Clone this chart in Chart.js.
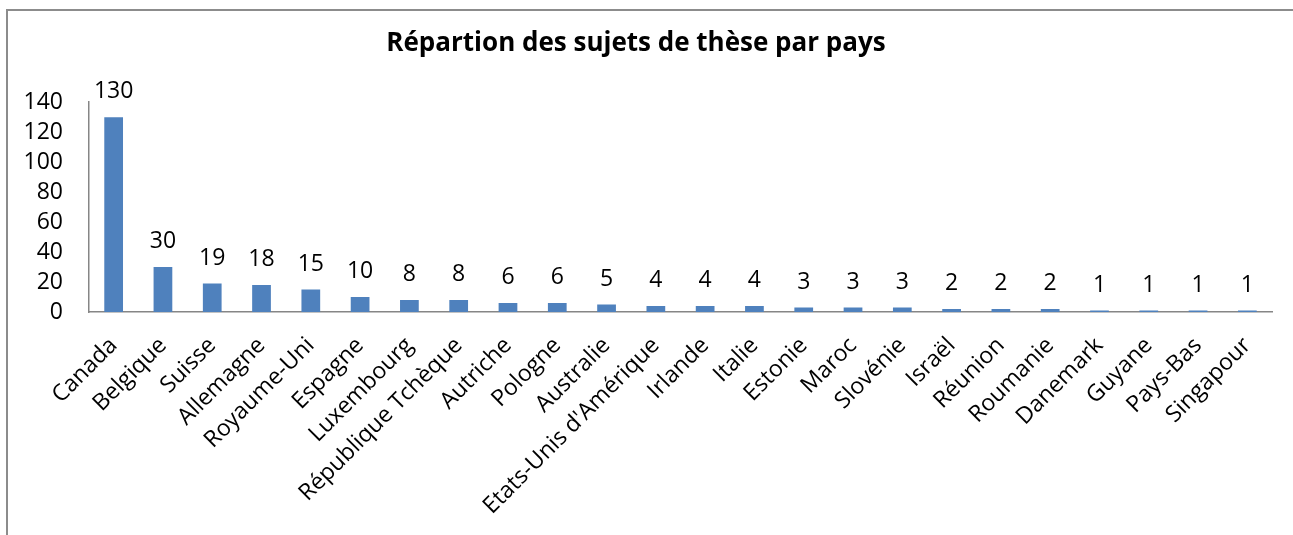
<!DOCTYPE html>
<html>
<head>
<meta charset="utf-8">
<script src="https://cdn.jsdelivr.net/npm/chart.js@4/dist/chart.umd.min.js"></script>
<style>
  html, body { margin: 0; padding: 0; background: #fff; }
  #wrap { width: 1293px; height: 535px; }
</style>
</head>
<body>
<div id="wrap"><canvas id="chart" width="1293" height="535"></canvas></div>
<script>
// ---- data ----
const countries = [
  "Canada", "Belgique", "Suisse", "Allemagne", "Royaume-Uni", "Espagne",
  "Luxembourg", "République Tchèque", "Autriche", "Pologne", "Australie",
  "Etats-Unis d'Amérique", "Irlande", "Italie", "Estonie", "Maroc",
  "Slovénie", "Israël", "Réunion", "Roumanie", "Danemark", "Guyane",
  "Pays-Bas", "Singapour"
];
const subjects = [130, 30, 19, 18, 15, 10, 8, 8, 6, 6, 5, 4, 4, 4, 3, 3, 3, 2, 2, 2, 1, 1, 1, 1];
const yTicks = [0, 20, 40, 60, 80, 100, 120, 140];

const FONT = "'Open Sans', sans-serif";
const BLUE = "#4F81BD";
const GREY = "#868686";

// frame around the whole chart (right and bottom fall outside the picture)
const framePlugin = {
  id: "frame",
  beforeDraw(chart) {
    const ctx = chart.ctx;
    ctx.save();
    ctx.fillStyle = "#fff";
    ctx.fillRect(0, 0, chart.width, chart.height);
    ctx.strokeStyle = "#8c8c8c";
    ctx.lineWidth = 2;
    ctx.strokeRect(7, 10, 1400, 700);
    ctx.restore();
  }
};

// value labels above the bars
const valueLabels = {
  id: "valueLabels",
  afterDatasetsDraw(chart) {
    const ctx = chart.ctx;
    const meta = chart.getDatasetMeta(0);
    ctx.save();
    ctx.font = "23px " + FONT;
    ctx.fillStyle = "#000";
    ctx.textAlign = "center";
    ctx.textBaseline = "alphabetic";
    meta.data.forEach((bar, i) => {
      ctx.fillText(String(subjects[i]), bar.x, bar.y - 19);
    });
    ctx.restore();
  }
};

const ctx = document.getElementById("chart").getContext("2d");
new Chart(ctx, {
  type: "bar",
  data: {
    labels: countries,
    datasets: [{
      data: subjects,
      backgroundColor: BLUE,
      borderWidth: 0,
      categoryPercentage: 1,
      barPercentage: 0.38
    }]
  },
  options: {
    responsive: false,
    animation: false,
    layout: { padding: { left: 0, right: 21, top: 0, bottom: 0 } },
    plugins: {
      legend: { display: false },
      tooltip: { enabled: false },
      title: {
        display: true,
        text: "Répartion des sujets de thèse par pays",
        color: "#000",
        font: { family: FONT, size: 26, weight: "bold", lineHeight: 1.2 },
        padding: { top: 28, bottom: 43 }
      }
    },
    scales: {
      x: {
        grid: { display: false, drawTicks: false },
        border: { color: GREY, width: 1.5 },
        ticks: {
          color: "#000",
          font: { family: FONT, size: 23 },
          minRotation: 45,
          maxRotation: 45,
          autoSkip: false,
          padding: 20
        },
        afterFit(scale) { scale.height = 223; }
      },
      y: {
        min: 0,
        max: 140,
        grid: { display: false, drawTicks: false },
        border: { color: GREY, width: 1.5 },
        afterBuildTicks(scale) { scale.ticks = yTicks.map(v => ({ value: v })); },
        ticks: {
          color: "#000",
          font: { family: FONT, size: 23, lineHeight: 1 },
          autoSkip: false,
          padding: 26
        },
        afterFit(scale) { scale.width = 89; }
      }
    }
  },
  plugins: [framePlugin, valueLabels]
});
</script>
</body>
</html>
